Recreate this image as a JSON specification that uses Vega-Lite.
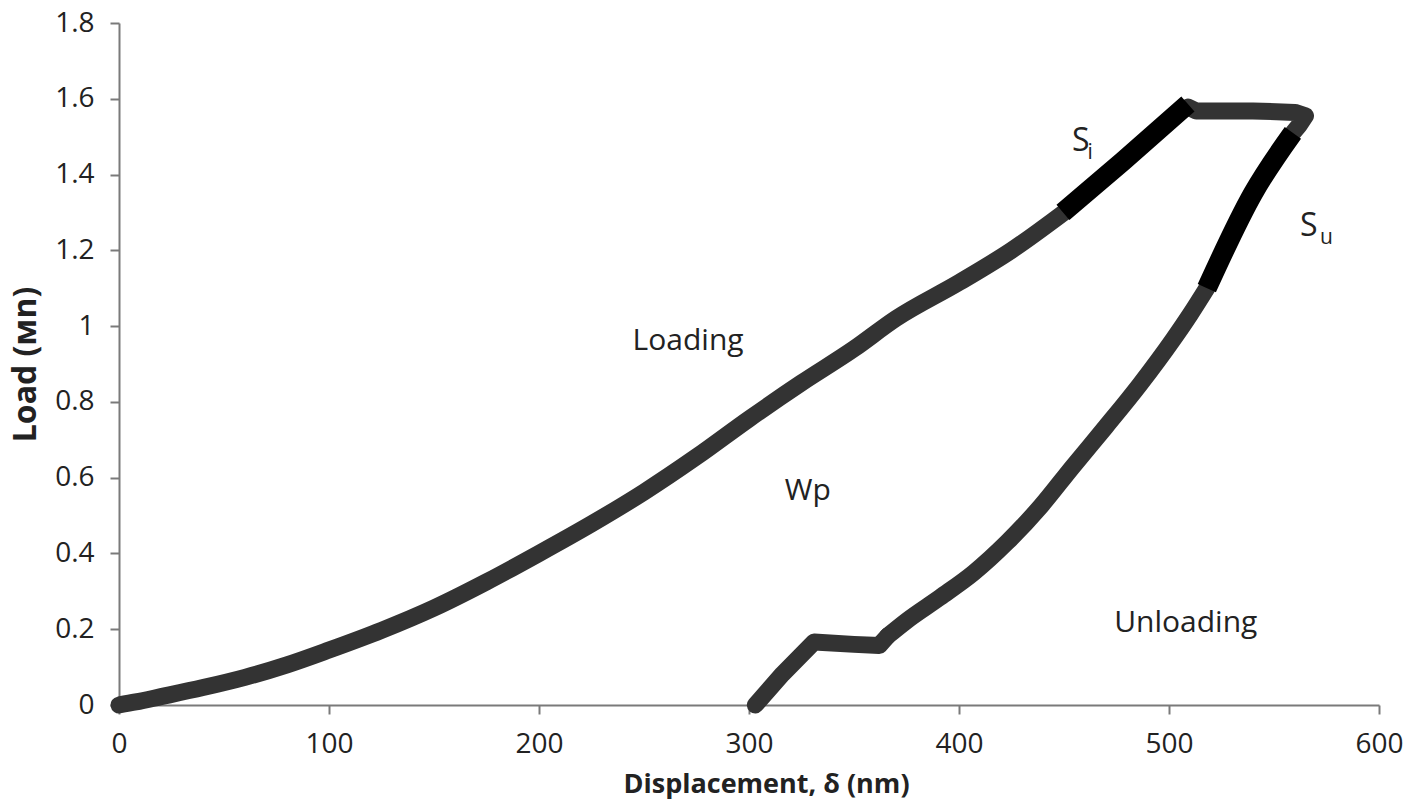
{
  "$schema": "https://vega.github.io/schema/vega-lite/v6.json",
  "autosize": "none",
  "width": 1260,
  "height": 682,
  "padding": {"left": 119, "top": 23, "right": 46, "bottom": 107},
  "background": "white",
  "config": {
    "view": {"stroke": null},
    "font": "Open Sans"
  },
  "datasets": {
    "curve": [
      {"seg": "loading", "kind": "smooth", "ord": 0, "x": 0, "y": 0},
      {"seg": "loading", "kind": "smooth", "ord": 1, "x": 8, "y": 0.008},
      {"seg": "loading", "kind": "smooth", "ord": 2, "x": 20, "y": 0.022},
      {"seg": "loading", "kind": "smooth", "ord": 3, "x": 40, "y": 0.046},
      {"seg": "loading", "kind": "smooth", "ord": 4, "x": 60, "y": 0.073},
      {"seg": "loading", "kind": "smooth", "ord": 5, "x": 80, "y": 0.106},
      {"seg": "loading", "kind": "smooth", "ord": 6, "x": 100, "y": 0.145},
      {"seg": "loading", "kind": "smooth", "ord": 7, "x": 125, "y": 0.197},
      {"seg": "loading", "kind": "smooth", "ord": 8, "x": 150, "y": 0.256},
      {"seg": "loading", "kind": "smooth", "ord": 9, "x": 175, "y": 0.325},
      {"seg": "loading", "kind": "smooth", "ord": 10, "x": 200, "y": 0.4},
      {"seg": "loading", "kind": "smooth", "ord": 11, "x": 225, "y": 0.478},
      {"seg": "loading", "kind": "smooth", "ord": 12, "x": 250, "y": 0.562},
      {"seg": "loading", "kind": "smooth", "ord": 13, "x": 275, "y": 0.655},
      {"seg": "loading", "kind": "smooth", "ord": 14, "x": 300, "y": 0.755},
      {"seg": "loading", "kind": "smooth", "ord": 15, "x": 325, "y": 0.85},
      {"seg": "loading", "kind": "smooth", "ord": 16, "x": 350, "y": 0.94},
      {"seg": "loading", "kind": "smooth", "ord": 17, "x": 370, "y": 1.02},
      {"seg": "loading", "kind": "smooth", "ord": 18, "x": 400, "y": 1.115},
      {"seg": "loading", "kind": "smooth", "ord": 19, "x": 425, "y": 1.2},
      {"seg": "loading", "kind": "smooth", "ord": 20, "x": 450, "y": 1.3},
      {"seg": "si", "kind": "stiff", "ord": 21, "x": 449.5, "y": 1.3},
      {"seg": "si", "kind": "stiff", "ord": 22, "x": 478, "y": 1.435},
      {"seg": "si", "kind": "stiff", "ord": 23, "x": 509, "y": 1.586},
      {"seg": "top", "kind": "linear", "ord": 24, "x": 509, "y": 1.578},
      {"seg": "top", "kind": "linear", "ord": 25, "x": 513, "y": 1.568},
      {"seg": "top", "kind": "linear", "ord": 26, "x": 540, "y": 1.568},
      {"seg": "top", "kind": "linear", "ord": 27, "x": 560, "y": 1.564},
      {"seg": "top", "kind": "linear", "ord": 28, "x": 565, "y": 1.555},
      {"seg": "top", "kind": "linear", "ord": 29, "x": 562, "y": 1.53},
      {"seg": "top", "kind": "linear", "ord": 30, "x": 559, "y": 1.51},
      {"seg": "su", "kind": "stiff", "ord": 31, "x": 559, "y": 1.51},
      {"seg": "su", "kind": "stiff", "ord": 32, "x": 540, "y": 1.35},
      {"seg": "su", "kind": "stiff", "ord": 33, "x": 518, "y": 1.1},
      {"seg": "unloading", "kind": "smooth", "ord": 36, "x": 518, "y": 1.1},
      {"seg": "unloading", "kind": "smooth", "ord": 37, "x": 510, "y": 1.03},
      {"seg": "unloading", "kind": "smooth", "ord": 38, "x": 502, "y": 0.965},
      {"seg": "unloading", "kind": "smooth", "ord": 39, "x": 486, "y": 0.845},
      {"seg": "unloading", "kind": "smooth", "ord": 40, "x": 470, "y": 0.735},
      {"seg": "unloading", "kind": "smooth", "ord": 41, "x": 454, "y": 0.628},
      {"seg": "unloading", "kind": "smooth", "ord": 42, "x": 439, "y": 0.525},
      {"seg": "unloading", "kind": "smooth", "ord": 43, "x": 423, "y": 0.43},
      {"seg": "unloading", "kind": "smooth", "ord": 44, "x": 407, "y": 0.349},
      {"seg": "unloading", "kind": "smooth", "ord": 45, "x": 391, "y": 0.284},
      {"seg": "unloading", "kind": "smooth", "ord": 46, "x": 375, "y": 0.222},
      {"seg": "unloading", "kind": "smooth", "ord": 47, "x": 366, "y": 0.182},
      {"seg": "tail", "kind": "linear", "ord": 48, "x": 366, "y": 0.182},
      {"seg": "tail", "kind": "linear", "ord": 49, "x": 362, "y": 0.157},
      {"seg": "tail", "kind": "linear", "ord": 50, "x": 350, "y": 0.16},
      {"seg": "tail", "kind": "linear", "ord": 51, "x": 331, "y": 0.166},
      {"seg": "tail", "kind": "linear", "ord": 52, "x": 316, "y": 0.082},
      {"seg": "tail", "kind": "linear", "ord": 53, "x": 303, "y": 0.0}
    ],
    "labels": [
      {"x": 271, "y": 0.938, "text": "Loading"},
      {"x": 328, "y": 0.542, "text": "Wp"},
      {"x": 508, "y": 0.193, "text": "Unloading"}
    ],
    "bigS": [
      {"x": 453.8, "y": 1.462, "text": "S"},
      {"x": 562.4, "y": 1.237, "text": "S"}
    ],
    "subs": [
      {"x": 461.2, "y": 1.44, "text": "i"},
      {"x": 571.9, "y": 1.216, "text": "u"}
    ]
  },
  "encoding": {
    "x": {
      "field": "x", "type": "quantitative",
      "scale": {"domain": [0, 600], "nice": false},
      "axis": {
        "title": "Displacement, δ (nm)",
        "values": [0, 100, 200, 300, 400, 500, 600],
        "grid": false,
        "labelFlush": false,
        "domainColor": "#7a7a7a", "domainWidth": 2,
        "tickColor": "#7a7a7a", "tickWidth": 2, "tickSize": 9,
        "labelFont": "Open Sans", "labelFontSize": 28, "labelColor": "#222",
        "labelPadding": 16,
        "titleFont": "Open Sans", "titleFontSize": 27, "titleFontWeight": "bold",
        "titleColor": "#222", "titlePadding": 13, "titleX": 647, "titleAnchor": "middle"
      }
    },
    "y": {
      "field": "y", "type": "quantitative",
      "scale": {"domain": [0, 1.8], "nice": false},
      "axis": {
        "title": "Load (мn)",
        "values": [0, 0.2, 0.4, 0.6, 0.8, 1, 1.2, 1.4, 1.6, 1.8],
        "format": "~g",
        "grid": false,
        "labelFlush": false,
        "domainColor": "#7a7a7a", "domainWidth": 2,
        "tickColor": "#7a7a7a", "tickWidth": 2, "tickSize": 9,
        "labelFont": "Open Sans", "labelFontSize": 28, "labelColor": "#222",
        "labelPadding": 16,
        "titleFont": "Open Sans", "titleFontSize": 32, "titleFontWeight": "bold",
        "titleColor": "#222", "titlePadding": 12
      }
    }
  },
  "layer": [
    {
      "data": {"name": "curve"},
      "transform": [{"filter": "datum.kind === 'smooth'"}],
      "mark": {"type": "line", "color": "#333333", "strokeWidth": 17, "strokeJoin": "round", "strokeCap": "round", "interpolate": "monotone"},
      "encoding": {
        "detail": {"field": "seg"},
        "order": {"field": "x", "type": "quantitative"}
      }
    },
    {
      "data": {"name": "curve"},
      "transform": [{"filter": "datum.kind === 'linear'"}],
      "mark": {"type": "line", "color": "#333333", "strokeWidth": 17, "strokeJoin": "round", "strokeCap": "round"},
      "encoding": {
        "detail": {"field": "seg"},
        "order": {"field": "ord", "type": "quantitative"}
      }
    },
    {
      "data": {"name": "curve"},
      "transform": [{"filter": "datum.kind === 'stiff'"}],
      "mark": {"type": "line", "color": "#000000", "strokeWidth": 20, "strokeJoin": "round", "strokeCap": "butt", "interpolate": "monotone"},
      "encoding": {
        "detail": {"field": "seg"},
        "order": {"field": "x", "type": "quantitative"}
      }
    },
    {
      "data": {"name": "labels"},
      "mark": {"type": "text", "font": "Open Sans", "fontSize": 30, "color": "#222", "align": "center", "baseline": "alphabetic"},
      "encoding": {"text": {"field": "text"}}
    },
    {
      "data": {"name": "bigS"},
      "mark": {"type": "text", "font": "Open Sans", "fontSize": 32, "color": "#222", "align": "left", "baseline": "alphabetic"},
      "encoding": {"text": {"field": "text"}}
    },
    {
      "data": {"name": "subs"},
      "mark": {"type": "text", "font": "Open Sans", "fontSize": 21, "color": "#222", "align": "left", "baseline": "alphabetic"},
      "encoding": {"text": {"field": "text"}}
    }
  ]
}
